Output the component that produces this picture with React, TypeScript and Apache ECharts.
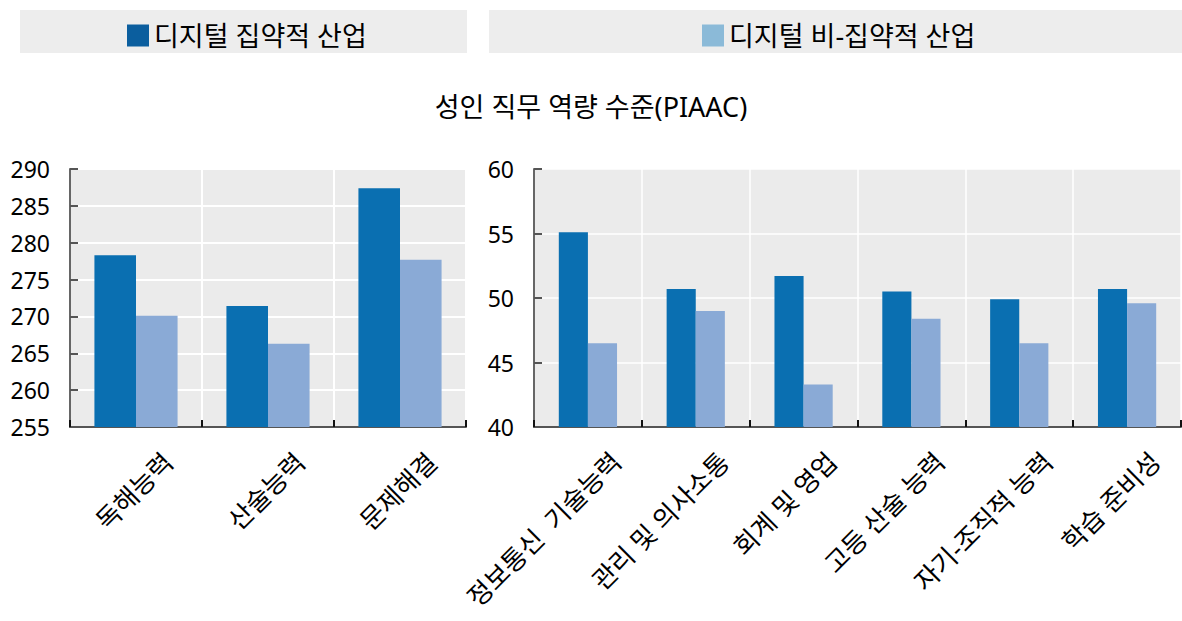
import React, { useEffect, useRef } from "react";
import * as echarts from "echarts";

const legendNames = ["디지털 집약적 산업", "디지털 비-집약적 산업"];
const title = "성인 직무 역량 수준(PIAAC)";

const leftCategories = ["독해능력", "산술능력", "문제해결"];
const leftIntensive = [278.3, 271.4, 287.4];
const leftNonIntensive = [270.1, 266.3, 277.7];

const rightCategories = [
  "정보통신  기술능력",
  "관리 및 의사소통",
  "회계 및 영업",
  "고등 산술 능력",
  "자기-조직적 능력",
  "학습 준비성",
];
const rightIntensive = [55.1, 50.7, 51.7, 50.5, 49.9, 50.7];
const rightNonIntensive = [46.5, 49.0, 43.3, 48.4, 46.5, 49.6];

const DARK = "#0a6fb1";
const LIGHT = "#8aaad6";
const LEG_DARK = "#0b5e9e";
const LEG_LIGHT = "#8bbad8";
const FONT = "'Noto Sans', 'Noto Sans CJK KR', sans-serif";

export default function App() {
  const ref = useRef<HTMLDivElement>(null);
  useEffect(() => {
    document.body.style.margin = "0";
    const chart = echarts.init(ref.current!, null, { renderer: "svg" });
    const xAxisCommon = (data: string[], splitW: number, shift: number, margin: number) => ({
      type: "category" as const,
      data,
      axisLine: { show: true, lineStyle: { color: "#555", width: 2 } },
      axisTick: {
        show: true,
        inside: true,
        length: 7,
        lineStyle: { color: "#111", width: 2 },
      },
      splitLine: { show: true, lineStyle: { color: "#fff", width: splitW } },
      axisLabel: {
        rotate: 45,
        interval: 0,
        color: "#000",
        fontSize: 26,
        fontFamily: FONT,
        margin,
        padding: [0, -shift, 0, 0],
      },
    });
    const yAxisCommon = (min: number, max: number, splitW: number) => ({
      type: "value" as const,
      min,
      max,
      interval: 5,
      axisLine: { show: true, lineStyle: { color: "#666", width: 2 } },
      axisTick: {
        show: true,
        inside: true,
        length: 8,
        lineStyle: { color: "#555", width: 2 },
      },
      splitLine: { show: true, lineStyle: { color: "#fff", width: splitW } },
      axisLabel: { color: "#000", fontSize: 23, fontFamily: FONT, margin: 20 },
    });
    const legendText = { fontSize: 27, color: "#000", fontFamily: FONT };
    chart.setOption({
      animation: false,
      textStyle: { fontFamily: FONT },
      graphic: [
        { type: "rect", shape: { x: 20, y: 10, width: 447, height: 43 }, style: { fill: "#ededed" }, z: -10 },
        { type: "rect", shape: { x: 489, y: 10, width: 693, height: 43 }, style: { fill: "#ededed" }, z: -10 },
      ],
      title: {
        text: title,
        left: "center",
        top: 88,
        textStyle: { fontSize: 27, fontWeight: "normal", color: "#000", fontFamily: FONT },
      },
      legend: [
        {
          data: [{ name: legendNames[0], itemStyle: { color: LEG_DARK } }],
          left: 122,
          top: 17,
          itemWidth: 22,
          itemHeight: 22,
          icon: "rect",
          textStyle: legendText,
          selectedMode: false,
        },
        {
          data: [{ name: legendNames[1], itemStyle: { color: LEG_LIGHT } }],
          left: 697,
          top: 17,
          itemWidth: 22,
          itemHeight: 22,
          icon: "rect",
          textStyle: legendText,
          selectedMode: false,
        },
      ],
      grid: [
        { left: 70, top: 169, width: 396, height: 258, backgroundColor: "#ebebeb", show: true, borderWidth: 0 },
        { left: 534, top: 169, width: 647, height: 258, backgroundColor: "#ebebeb", show: true, borderWidth: 0 },
      ],
      xAxis: [
        { ...xAxisCommon(leftCategories, 2, 45, 62), gridIndex: 0 },
        { ...xAxisCommon(rightCategories, 1.5, 40, 58), gridIndex: 1 },
      ],
      yAxis: [
        { ...yAxisCommon(255, 290, 2), gridIndex: 0 },
        { ...yAxisCommon(40, 60, 1.5), gridIndex: 1 },
      ],
      series: [
        {
          type: "bar",
          name: legendNames[0],
          xAxisIndex: 0,
          yAxisIndex: 0,
          data: leftIntensive,
          itemStyle: { color: DARK },
          barGap: "0%",
          barCategoryGap: "37%",
        },
        {
          type: "bar",
          name: legendNames[1],
          xAxisIndex: 0,
          yAxisIndex: 0,
          data: leftNonIntensive,
          itemStyle: { color: LIGHT },
          barGap: "0%",
          barCategoryGap: "37%",
        },
        {
          type: "bar",
          name: legendNames[0],
          xAxisIndex: 1,
          yAxisIndex: 1,
          data: rightIntensive,
          itemStyle: { color: DARK },
          barGap: "0%",
          barCategoryGap: "46%",
        },
        {
          type: "bar",
          name: legendNames[1],
          xAxisIndex: 1,
          yAxisIndex: 1,
          data: rightNonIntensive,
          itemStyle: { color: LIGHT },
          barGap: "0%",
          barCategoryGap: "46%",
        },
      ],
    });
    return () => chart.dispose();
  }, []);
  return <div ref={ref} style={{ width: 1182, height: 621 }} />;
}
